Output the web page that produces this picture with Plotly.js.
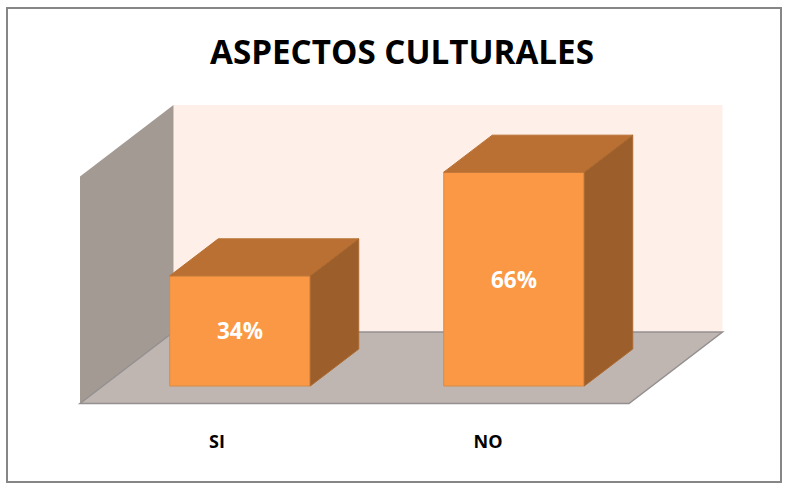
<!DOCTYPE html>
<html>
<head>
<meta charset="utf-8">
<script src="https://cdn.plot.ly/plotly-3.0.1.min.js"></script>
<style>html,body{margin:0;padding:0;background:#fff}#c{width:785px;height:484px}</style>
</head>
<body>
<div id="c"></div>
<script>
var categories = ["SI", "NO"];
var values = [34, 66];
var labels = ["34%", "66%"];
var titleText = "ASPECTOS CULTURALES";

var W = 785, H = 484, BOTTOM = 55;
var X0 = 240, XS = 274, Y0 = 386, YS = 3.24;
function X(p){ return (p - X0) / XS; }
function Y(p){ return (Y0 - p) / YS; }

var barW = 140.5 / XS, dx = 48.5 / XS, dy = 37 / YS;
var pos = [0, 1];
var FONT = "'Open Sans', sans-serif";

var traces = [{
  type: "bar", x: pos, y: values, width: barW,
  marker: {color: "#FA9845", line: {color: "#D98A47", width: 1}},
  text: labels, textposition: "inside", insidetextanchor: "middle", constraintext: "none",
  textangle: 0,
  textfont: {family: FONT, size: 22.5, color: "#FFFFFF", weight: 700},
  hoverinfo: "skip", showlegend: false
}];

values.forEach(function(v, i){
  var l = pos[i] - barW / 2, r = pos[i] + barW / 2;
  traces.push({
    type: "scatter", mode: "lines", fill: "toself", fillcolor: "#BA7033",
    x: [l, r, r + dx, l + dx, l], y: [v, v, v + dy, v + dy, v],
    line: {color: "#B87033", width: 1}, hoverinfo: "skip", showlegend: false
  });
  traces.push({
    type: "scatter", mode: "lines", fill: "toself", fillcolor: "#9C5F2B",
    x: [r, r + dx, r + dx, r, r], y: [0, dy, v + dy, v, 0],
    line: {color: "#AD6A30", width: 1}, hoverinfo: "skip", showlegend: false
  });
});

function poly(pts){
  return "M" + pts.map(function(p){ return X(p[0]) + "," + Y(p[1]); }).join("L") + "Z";
}
var shapes = [
  {type: "path", layer: "below", xref: "x", yref: "y", path: poly([[173.5,105],[722.5,105],[722.5,332],[173.5,332]]),
   fillcolor: "#FEF0E9", line: {width: 0}},
  {type: "path", layer: "below", xref: "x", yref: "y", path: poly([[80,176.5],[173.5,105],[173.5,332],[80,403.5]]),
   fillcolor: "#A39A94", line: {width: 0}},
  {type: "path", layer: "below", xref: "x", yref: "y", path: poly([[80,403.5],[629,403.5],[722.5,332],[173.5,332]]),
   fillcolor: "#BFB5B1", line: {color: "#949090", width: 1.5}},
  {type: "rect", xref: "paper", yref: "paper", layer: "above",
   x0: 7 / W, x1: 781 / W, y0: (H - BOTTOM - 482) / (H - BOTTOM), y1: (H - BOTTOM - 8) / (H - BOTTOM),
   fillcolor: "rgba(0,0,0,0)", line: {color: "#868686", width: 2}}
];

var layout = {
  width: W, height: H,
  margin: {l: 0, r: 0, t: 0, b: BOTTOM, pad: 0},
  paper_bgcolor: "#FFFFFF", plot_bgcolor: "rgba(0,0,0,0)",
  showlegend: false,
  title: {text: titleText, font: {family: FONT, size: 33.2, color: "#000000", weight: 700},
          x: 402 / W, xanchor: "center", y: 1 - 52 / H, yanchor: "middle"},
  xaxis: {range: [X(0), X(W)], showgrid: false, zeroline: false, showline: false, ticks: "",
          tickmode: "array", tickvals: [X(217), X(488)], ticktext: categories,
          tickfont: {family: FONT, size: 18, color: "#000000", weight: 700}, ticklen: 0},
  yaxis: {range: [Y(H - BOTTOM), Y(0)], visible: false, showgrid: false, zeroline: false},
  shapes: shapes
};
Plotly.newPlot("c", traces, layout, {displayModeBar: false, staticPlot: true});
</script>
</body>
</html>
